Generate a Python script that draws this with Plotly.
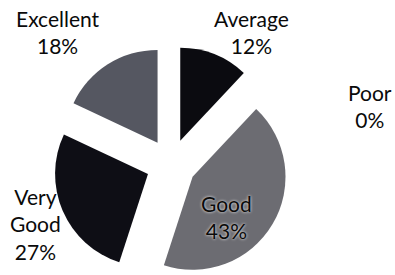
import plotly.graph_objects as go

categories = ["Average", "Good", "Very Good", "Excellent", "Poor"]
percent = [12, 43, 27, 18, 0]
label_text = ["Average", "Good", "Very<br>Good", "Excellent", "Poor"]
slice_colors = ["#0b0b10", "#6c6c72", "#0e0e15", "#555761", "#ffffff"]

# figure is slightly taller than the 275px window so the bottom of the pie is cropped,
# as in the reference
W, H = 395, 285
pulls = [0.27, 0.27, 0.27, 0.27, 0.0]

fig = go.Figure(go.Pie(
    labels=categories,
    values=percent,
    sort=False,
    direction="clockwise",
    rotation=0,
    pull=pulls,
    marker=dict(colors=slice_colors, line=dict(width=0)),
    textinfo="none",
    hoverinfo="label+percent",
    domain=dict(x=[53 / W, 289 / W], y=[(H - 282) / H, 1 - 46 / H]),
    showlegend=False,
))

# label centres in pixels (top-left origin)
label_px = {
    "Average": (252, 32),
    "Good": (227, 217),
    "Very Good": (35, 224),
    "Excellent": (58, 32),
    "Poor": (370, 106),
}

for cat, txt, p in zip(categories, label_text, percent):
    x, y = label_px[cat]
    inside = cat == "Good"
    fig.add_annotation(
        x=x / W, y=1 - y / H, xref="paper", yref="paper",
        text=f"{txt}<br>{p}%",
        showarrow=False, xanchor="center", yanchor="middle",
        font=dict(family="Lato", size=21, color="#0a0a0a",
                  shadow="0px 0px 3px #ffffff" if inside else "none"),
    )

fig.update_layout(
    width=W, height=H,
    margin=dict(l=0, r=0, t=0, b=0),
    paper_bgcolor="white", plot_bgcolor="white",
)

fig.write_html(
    "out.html",
    config={"displayModeBar": False},
    post_script="document.body.style.margin='0px';document.body.style.overflow='hidden';",
)
